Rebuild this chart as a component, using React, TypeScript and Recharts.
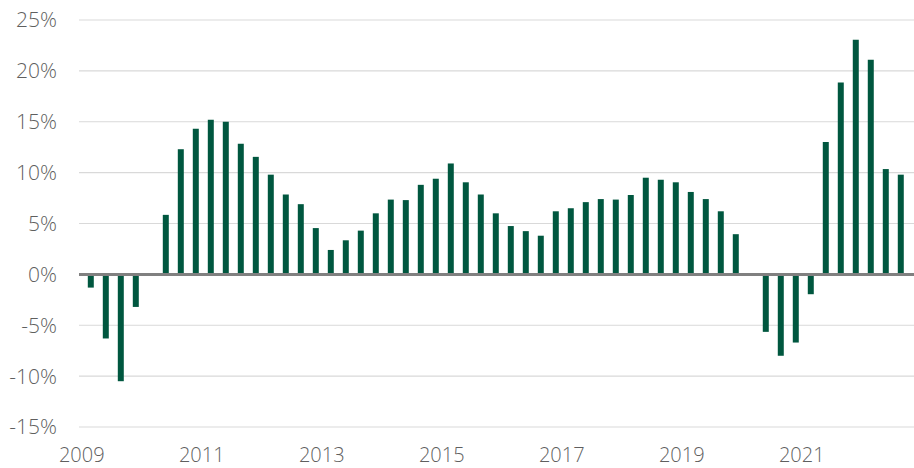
import React from "react";
import {
  BarChart,
  Bar,
  CartesianGrid,
  XAxis,
  YAxis,
  ReferenceLine,
} from "recharts";

// quarterly growth, 2009 Q1 .. 2022 Q3
const startYear = 2009;
const growth = [
  -1.3, -6.3, -10.5, -3.2,
  0, 5.85, 12.3, 14.3,
  15.2, 15.0, 12.85, 11.55,
  9.8, 7.85, 6.9, 4.55,
  2.4, 3.35, 4.3, 6.0,
  7.35, 7.3, 8.8, 9.4,
  10.9, 9.05, 7.85, 6.0,
  4.75, 4.25, 3.8, 6.2,
  6.5, 7.1, 7.4, 7.35,
  7.8, 9.5, 9.3, 9.05,
  8.1, 7.4, 6.2, 3.95,
  0, -5.65, -8.0, -6.7,
  -1.95, 13.0, 18.85, 23.05,
  21.1, 10.35, 9.8,
];
const yearTicks = [2009, 2011, 2013, 2015, 2017, 2019, 2021];
const pctTicks = [-15, -10, -5, 0, 5, 10, 15, 20, 25];

// bar sits in the middle of its quarter
const data = growth.map((v, i) => ({
  x: startYear + i / 4 + 0.125,
  value: v,
}));

const textStyle = {
  fontFamily: "'Open Sans', sans-serif",
  fontWeight: 300,
  fill: "#5f5f5f",
};

export default function App() {
  return (
    <div style={{ position: "absolute", left: 0, top: 0, width: 914, height: 468, background: "#fff" }}>
      <BarChart
        width={914}
        height={468}
        data={data}
        margin={{ top: 20, right: 0, bottom: 11, left: 0 }}
      >
        <CartesianGrid vertical={false} stroke="#d9d9d9" strokeWidth={1.2} />
        <XAxis
          dataKey="x"
          type="number"
          domain={[2008.92, 2022.837]}
          allowDataOverflow
          ticks={yearTicks}
          interval={0}
          tickFormatter={(v) => String(v)}
          axisLine={false}
          tickLine={false}
          tickMargin={15}
          height={30}
          tick={{ ...textStyle, fontSize: 20, dx: -2 }}
        />
        <YAxis
          type="number"
          domain={[-15, 25]}
          ticks={pctTicks}
          interval={0}
          tickFormatter={(v) => `${v}%`}
          axisLine={false}
          tickLine={false}
          tickMargin={16}
          width={79}
          tick={{ ...textStyle, fontSize: 21 }}
        />
        <Bar dataKey="value" fill="#00573f" barSize={6} isAnimationActive={false} />
        <ReferenceLine y={0} stroke="#808080" strokeWidth={3} />
      </BarChart>
    </div>
  );
}
